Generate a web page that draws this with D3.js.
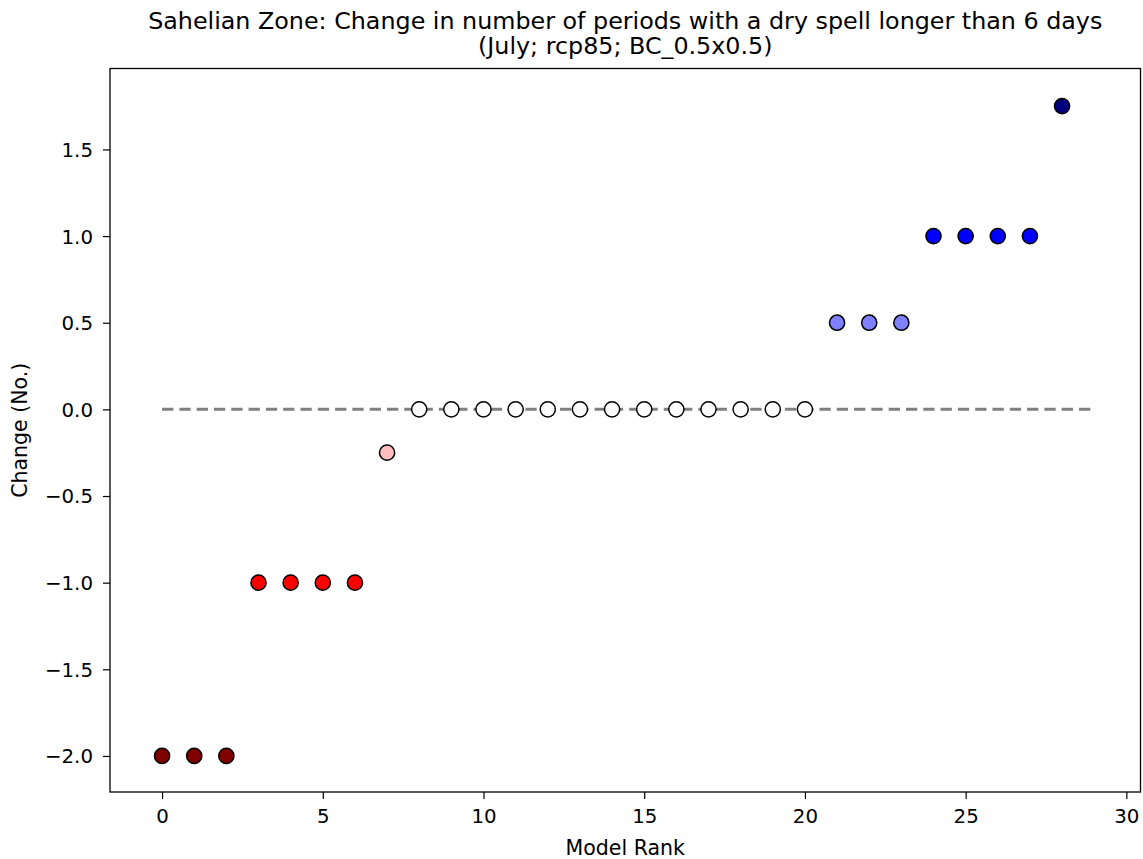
<!DOCTYPE html>
<html>
<head>
<meta charset="utf-8">
<script src="https://cdn.jsdelivr.net/npm/d3@7"></script>
<style>
  html, body { margin: 0; padding: 0; background: #fff; }
  svg { display: block; font-family: "DejaVu Sans", sans-serif; }
</style>
</head>
<body>
<svg id="chart" width="1143" height="859"></svg>
<script>
// ---- data ----
const ranks = [0,1,2,3,4,5,6,7,8,9,10,11,12,13,14,15,16,17,18,19,20,21,22,23,24,25,26,27,28];
const changes = [-2,-2,-2,-1,-1,-1,-1,-0.25,0,0,0,0,0,0,0,0,0,0,0,0,0,0.5,0.5,0.5,1,1,1,1,1.75];
const xTicks = [0,5,10,15,20,25,30];
const yTicks = [-2.0,-1.5,-1.0,-0.5,0.0,0.5,1.0,1.5];
const refLine = [ {x: 0, y: 0}, {x: 29, y: 0} ];
const titleLines = ["Sahelian Zone: Change in number of periods with a dry spell longer than 6 days",
                    "(July; rcp85; BC_0.5x0.5)"];
const xLabel = "Model Rank";
const yLabel = "Change (No.)";
const colorStops = [-2, -1, 0, 1, 2];
const colorValues = ["#800000", "#ff0000", "#fdfdff", "#0000ff", "#00004d"];

// ---- layout ----
const svg = d3.select("#chart");
const L = 110, R = 1140.5, T = 68.5, B = 792;
const x = d3.scaleLinear().domain([-1.62, 30.44]).range([L, R]);
const y = d3.scaleLinear().domain([-2.208, 1.967]).range([B, T]);
const color = d3.scaleLinear().domain(colorStops).range(colorValues);
const fs = 19.8;

// reference dashed line
svg.append("path")
  .datum(refLine)
  .attr("d", d3.line().x(d => x(d.x)).y(d => y(d.y)))
  .attr("fill", "none")
  .attr("stroke", "#808080")
  .attr("stroke-width", 3)
  .attr("stroke-dasharray", "11.3,6");

// points
svg.append("g").selectAll("circle")
  .data(ranks.map((r, i) => ({r, v: changes[i]})))
  .join("circle")
  .attr("cx", d => x(d.r))
  .attr("cy", d => y(d.v))
  .attr("r", 7.6)
  .attr("fill", d => color(d.v))
  .attr("stroke", "#000")
  .attr("stroke-width", 1.5);

// axes
const fmtY = v => (v < 0 ? "\u2212" : "") + Math.abs(v).toFixed(1);
const xAxis = d3.axisBottom(x).tickValues(xTicks).tickSize(7).tickPadding(7).tickFormat(d3.format("d"));
const yAxis = d3.axisLeft(y).tickValues(yTicks).tickSize(7).tickPadding(7).tickFormat(fmtY);

const gx = svg.append("g").attr("transform", `translate(0,${B})`).call(xAxis);
const gy = svg.append("g").attr("transform", `translate(${L},0)`).call(yAxis);
[gx, gy].forEach(g => {
  g.select(".domain").remove();
  g.selectAll(".tick line").attr("stroke", "#000").attr("stroke-width", 1.2);
  g.selectAll(".tick text").attr("fill", "#000").style("font-size", fs + "px").style("font-family", "DejaVu Sans");
});
gx.selectAll(".tick text").attr("dy", null).attr("y", 31);
gy.selectAll(".tick text").attr("x", -17).attr("dy", "0.35em");

// frame
svg.append("rect")
  .attr("x", L).attr("y", T).attr("width", R - L).attr("height", B - T)
  .attr("fill", "none").attr("stroke", "#000").attr("stroke-width", 1.3);

// labels
svg.append("text")
  .attr("x", (L + R) / 2).attr("y", 855)
  .attr("text-anchor", "middle").style("font-size", "20.5px")
  .text(xLabel);
svg.append("text")
  .attr("transform", `translate(27,${(T + B) / 2}) rotate(-90)`)
  .attr("text-anchor", "middle").style("font-size", "20.5px")
  .text(yLabel);

// title (one text element, two lines)
const title = svg.append("text")
  .attr("text-anchor", "middle").style("font-size", "23.8px");
title.selectAll("tspan")
  .data(titleLines)
  .join("tspan")
  .attr("x", (L + R) / 2)
  .attr("y", (d, i) => i === 0 ? 29 : 53.5)
  .text(d => d);
</script>
</body>
</html>
